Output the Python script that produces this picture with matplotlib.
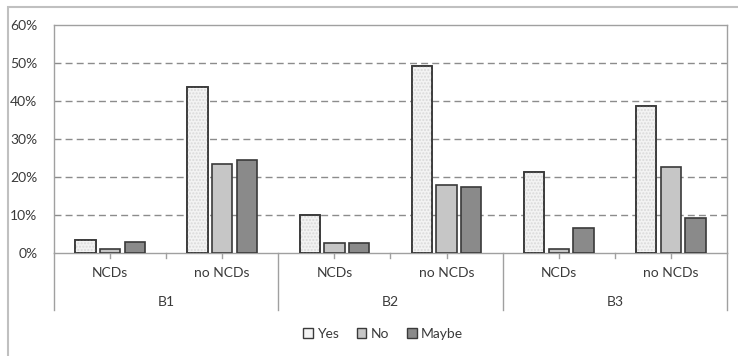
import matplotlib
matplotlib.use("Agg")
import matplotlib.pyplot as plt
import matplotlib.transforms as mtransforms
from matplotlib.patches import Rectangle, Patch
import numpy as np

plt.rcParams['font.family'] = ['Lato', 'DejaVu Sans']

groups = ["B1", "B2", "B3"]
subgroups = ["NCDs", "no NCDs", "NCDs", "no NCDs", "NCDs", "no NCDs"]
series = ["Yes", "No", "Maybe"]
yes = [3.5, 43.8, 10.0, 49.3, 21.3, 38.6]
no = [1.1, 23.5, 2.6, 18.0, 1.1, 22.6]
maybe = [3.0, 24.5, 2.6, 17.4, 6.6, 9.2]
yticks = [0, 10, 20, 30, 40, 50, 60]

fs = 10
txtcol = '#3a3a3a'

fig = plt.figure(figsize=(7.38, 3.56), dpi=100)
ax = fig.add_axes([54/738, 1-253.3/356, (727-54)/738, (253.3-25)/356])

x = np.arange(len(subgroups))
w = 0.18
pitch = 0.22
edge = '#3a3a3a'
cols = ['#f3f3f3', '#c6c6c6', '#8a8a8a']
for i, vals in enumerate([yes, no, maybe]):
    xs = x + (i - 1) * pitch
    ax.bar(xs, vals, w, color=cols[i], edgecolor=edge, linewidth=1.2, zorder=3)
    if i == 0:
        ax.bar(xs, vals, w, color='none', edgecolor='#d9d9d9', hatch='.....',
               linewidth=0, zorder=3.5)
        ax.bar(xs, vals, w, color='none', edgecolor=edge, linewidth=1.2, zorder=4)

ax.set_xlim(-0.5, 5.5)
ax.set_ylim(0, 60)
ax.set_yticks(yticks)
ax.set_yticklabels([f"{v}%" for v in yticks], fontsize=fs, color=txtcol)
ax.tick_params(axis='y', length=0, pad=12)
for v in yticks[1:-1]:
    ax.axhline(v, color='#8c8c8c', linestyle=(0, (5, 3)), linewidth=1.0, zorder=1)

for s in ['left', 'top', 'right', 'bottom']:
    ax.spines[s].set_color('#a0a0a0')
    ax.spines[s].set_linewidth(1.0)

ax.set_xticks([])
trans = mtransforms.blended_transform_factory(ax.transData, ax.transAxes)
ylow = -(310 - 253.3) / 228.3
for b in [-0.5, 1.5, 3.5, 5.5]:
    ax.plot([b, b], [0, ylow], transform=trans, color='#a0a0a0', lw=1.0, clip_on=False)
for t in list(x) + [0.5, 2.5, 4.5]:
    ax.plot([t, t], [0, -5/228.3], transform=trans, color='#a0a0a0', lw=1.0, clip_on=False)
for xi, lab in zip(x, subgroups):
    ax.text(xi, -(273 - 253.3)/228.3, lab, transform=trans, ha='center', va='center',
            fontsize=fs, color=txtcol)
for gi, g in enumerate(groups):
    ax.text(2*gi + 0.5, -(302 - 253.3)/228.3, g, transform=trans, ha='center', va='center',
            fontsize=fs, color=txtcol)

handles = [Patch(facecolor=c, edgecolor=edge, linewidth=1.0) for c in cols]
fig.legend(handles, series, loc='center', bbox_to_anchor=(383/738, 1-334/356), ncol=3,
           frameon=False, fontsize=fs, handlelength=0.7, handleheight=0.7,
           handletextpad=0.3, columnspacing=1.3, labelcolor=txtcol)

fig.patches.append(Rectangle((8/738, -0.1), 1.2, 1 - 7/356 + 0.1, transform=fig.transFigure,
                             fill=False, edgecolor='#c0c0c0', linewidth=1.5, zorder=0))

fig.savefig("out.png", dpi=100)
